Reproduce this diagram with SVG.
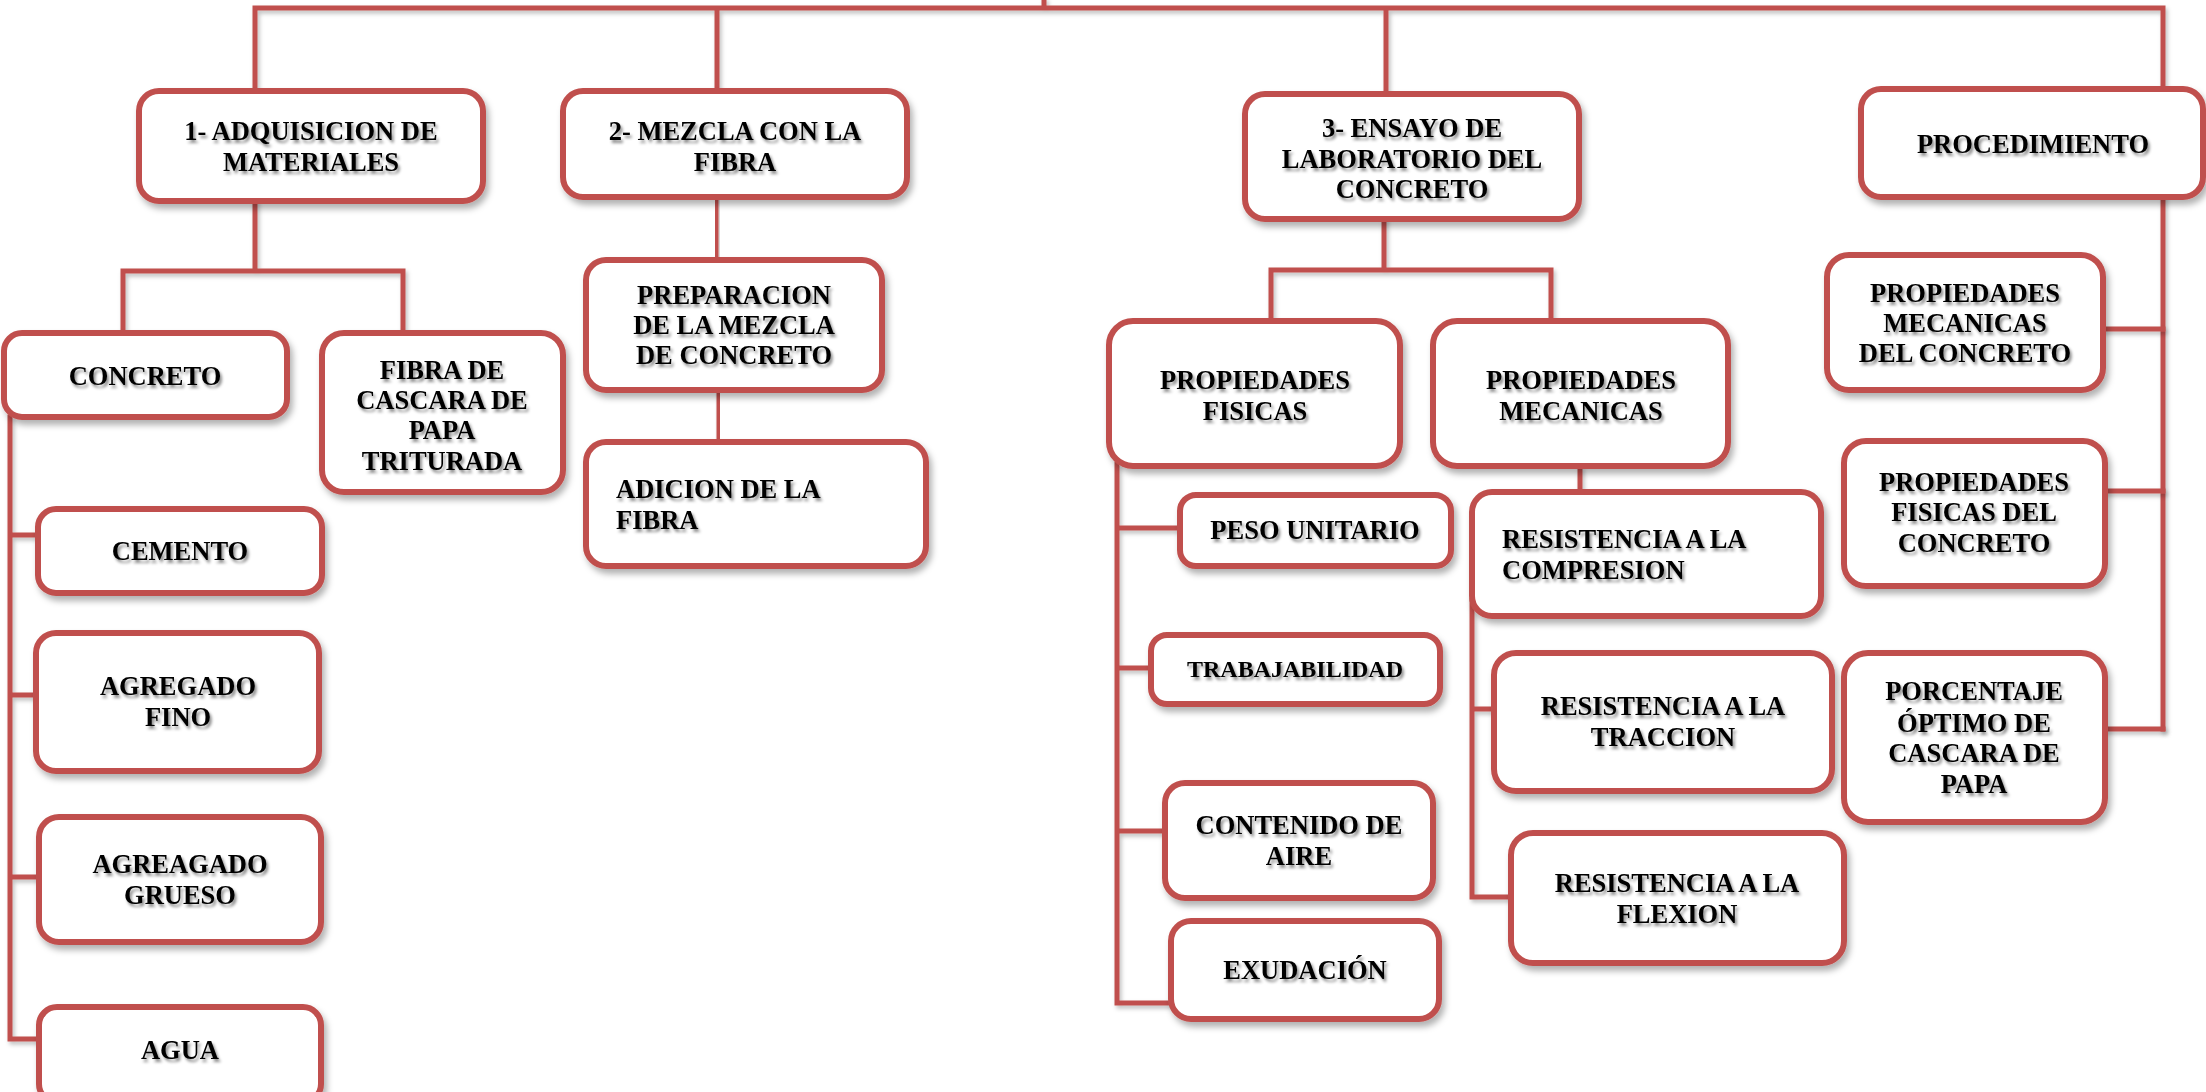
<svg xmlns="http://www.w3.org/2000/svg" width="2206" height="1092" viewBox="0 0 2206 1092">
<defs>
<filter id="bs" x="-10%" y="-10%" width="125%" height="135%">
<feDropShadow dx="3" dy="5" stdDeviation="3" flood-color="#000" flood-opacity="0.3"/>
</filter>
<filter id="ts" x="-5%" y="-30%" width="115%" height="170%">
<feDropShadow dx="2" dy="3" stdDeviation="1.6" flood-color="#000" flood-opacity="0.45"/>
</filter>
<filter id="ls" x="-20%" y="-20%" width="140%" height="140%">
<feDropShadow dx="2" dy="3" stdDeviation="2" flood-color="#000" flood-opacity="0.25"/>
</filter>
<style>
.b{fill:#fff;stroke:#C0504D;stroke-width:6;filter:url(#bs)}
.t{font-family:"Liberation Serif","Times New Roman",serif;font-weight:bold;font-size:26.5px;fill:#000;text-anchor:middle;filter:url(#ts)}
.l{text-anchor:start}
.c{fill:none;stroke:#C0504D;stroke-width:5;stroke-linecap:square;filter:url(#ls)}
</style>
</defs>
<rect width="2206" height="1092" fill="#fff"/>
<g id="connectors">
<path class="c" d="M1044 0V8M255 8H2163M255 8V91M717 8V91M1386 8V94M2163 8V729"/>
<path class="c" d="M255 201V271M123 271H403M123 271V333M403 271V333"/>
<path class="c" d="M716 197V260M719 390V441"/>
<path class="c" d="M1384 219V270M1271 270H1551M1271 270V321M1551 270V321"/>
<path class="c" d="M10 417V1039M10 535H38M10 695H36M10 877H39M10 1039H39"/>
<path class="c" d="M1117 464V1003M1117 528H1180M1117 668H1151M1117 831H1165M1117 1003H1171"/>
<path class="c" d="M1580 468V491M1472 600V897M1472 709H1494M1472 897H1511"/>
<path class="c" d="M2103 329H2163M2105 491H2163M2105 729H2163"/>
</g>
<g id="n1"><rect class="b" x="139" y="91" width="344" height="110" rx="20"/><text class="t" x="311" y="140">1- ADQUISICION DE</text><text class="t" x="311" y="171">MATERIALES</text></g>
<g id="n2"><rect class="b" x="563" y="91" width="344" height="106" rx="20"/><text class="t" x="735" y="140">2- MEZCLA CON LA</text><text class="t" x="735" y="171">FIBRA</text></g>
<g id="n3"><rect class="b" x="1245" y="94" width="334" height="125" rx="20"/><text class="t" x="1412" y="137">3- ENSAYO DE</text><text class="t" x="1412" y="168">LABORATORIO DEL</text><text class="t" x="1412" y="198">CONCRETO</text></g>
<g id="n4"><rect class="b" x="1861" y="89" width="342" height="108" rx="20"/><text class="t" x="2033" y="153">PROCEDIMIENTO</text></g>
<g id="n5"><rect class="b" x="4" y="333" width="283" height="84" rx="18"/><text class="t" x="145" y="385">CONCRETO</text></g>
<g id="n6"><rect class="b" x="322" y="333" width="241" height="159" rx="22"/><text class="t" x="442" y="379">FIBRA DE</text><text class="t" x="442" y="409">CASCARA DE</text><text class="t" x="442" y="439">PAPA</text><text class="t" x="442" y="470">TRITURADA</text></g>
<g id="n7"><rect class="b" x="586" y="260" width="296" height="130" rx="20"/><text class="t" x="734" y="304">PREPARACION</text><text class="t" x="734" y="334">DE LA MEZCLA</text><text class="t" x="734" y="364">DE CONCRETO</text></g>
<g id="n8"><rect class="b" x="586" y="442" width="340" height="124" rx="20"/><text class="t l" x="616" y="498">ADICION DE LA</text><text class="t l" x="616" y="529">FIBRA</text></g>
<g id="n9"><rect class="b" x="38" y="509" width="284" height="84" rx="18"/><text class="t" x="180" y="560">CEMENTO</text></g>
<g id="n10"><rect class="b" x="36" y="633" width="283" height="138" rx="20"/><text class="t" x="178" y="695">AGREGADO</text><text class="t" x="178" y="726">FINO</text></g>
<g id="n11"><rect class="b" x="39" y="817" width="282" height="125" rx="20"/><text class="t" x="180" y="873">AGREAGADO</text><text class="t" x="180" y="904">GRUESO</text></g>
<g id="n12"><rect class="b" x="39" y="1007" width="282" height="95" rx="18"/><text class="t" x="180" y="1059">AGUA</text></g>
<g id="n13"><rect class="b" x="1109" y="321" width="291" height="145" rx="24"/><text class="t" x="1255" y="389">PROPIEDADES</text><text class="t" x="1255" y="420">FISICAS</text></g>
<g id="n14"><rect class="b" x="1433" y="321" width="295" height="145" rx="24"/><text class="t" x="1581" y="389">PROPIEDADES</text><text class="t" x="1581" y="420">MECANICAS</text></g>
<g id="n15"><rect class="b" x="1180" y="495" width="271" height="71" rx="16"/><text class="t" x="1315" y="539">PESO UNITARIO</text></g>
<g id="n16"><rect class="b" x="1151" y="635" width="289" height="69" rx="16"/><text class="t" x="1295" y="677" style="font-size:24px">TRABAJABILIDAD</text></g>
<g id="n17"><rect class="b" x="1165" y="783" width="268" height="115" rx="20"/><text class="t" x="1299" y="834">CONTENIDO DE</text><text class="t" x="1299" y="865">AIRE</text></g>
<g id="n18"><rect class="b" x="1171" y="921" width="268" height="98" rx="20"/><text class="t" x="1305" y="979">EXUDACIÓN</text></g>
<g id="n19"><rect class="b" x="1472" y="492" width="349" height="124" rx="20"/><text class="t l" x="1502" y="548">RESISTENCIA A LA</text><text class="t l" x="1502" y="579">COMPRESION</text></g>
<g id="n20"><rect class="b" x="1494" y="653" width="338" height="138" rx="22"/><text class="t" x="1663" y="715">RESISTENCIA A LA</text><text class="t" x="1663" y="746">TRACCION</text></g>
<g id="n21"><rect class="b" x="1511" y="833" width="333" height="130" rx="22"/><text class="t" x="1677" y="892">RESISTENCIA A LA</text><text class="t" x="1677" y="923">FLEXION</text></g>
<g id="n22"><rect class="b" x="1827" y="255" width="276" height="135" rx="22"/><text class="t" x="1965" y="302">PROPIEDADES</text><text class="t" x="1965" y="332">MECANICAS</text><text class="t" x="1965" y="362">DEL CONCRETO</text></g>
<g id="n23"><rect class="b" x="1844" y="441" width="261" height="145" rx="22"/><text class="t" x="1974" y="491">PROPIEDADES</text><text class="t" x="1974" y="521">FISICAS DEL</text><text class="t" x="1974" y="552">CONCRETO</text></g>
<g id="n24"><rect class="b" x="1844" y="653" width="261" height="169" rx="24"/><text class="t" x="1974" y="700">PORCENTAJE</text><text class="t" x="1974" y="732">ÓPTIMO DE</text><text class="t" x="1974" y="762">CASCARA DE</text><text class="t" x="1974" y="793">PAPA</text></g>
</svg>
